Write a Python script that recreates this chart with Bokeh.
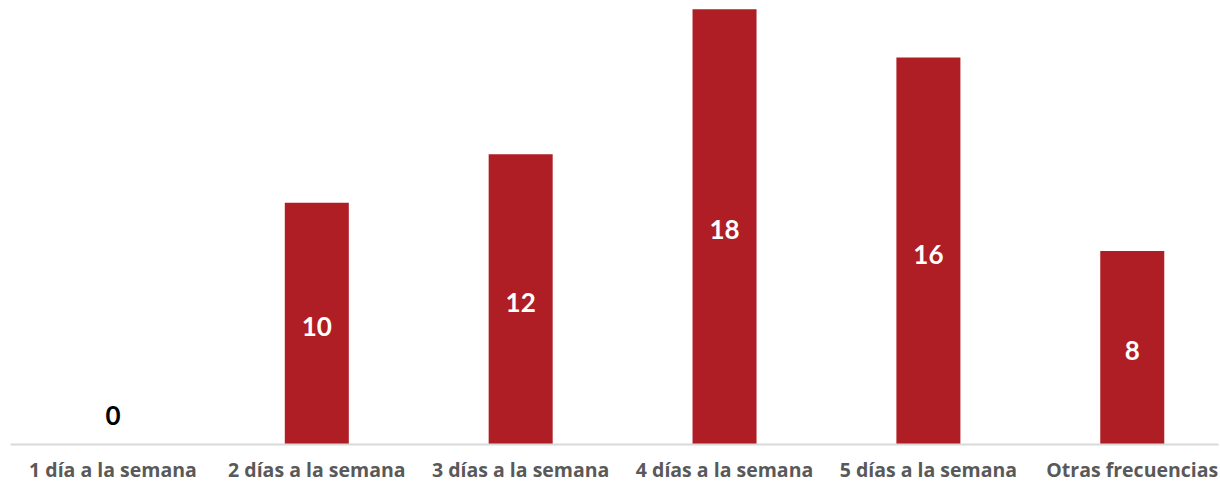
from bokeh.plotting import figure
from bokeh.models import ColumnDataSource, Range1d, FixedTicker
from bokeh.core.properties import value
from bokeh.embed import file_html
from bokeh.resources import INLINE

categories = ["1 día a la semana", "2 días a la semana", "3 días a la semana",
              "4 días a la semana", "5 días a la semana", "Otras frecuencias"]
values = [0, 10, 12, 18, 16, 8]

xpos = [i + 0.5 for i in range(len(categories))]
labels = [str(v) for v in values]
mids = [v / 2 for v in values]
colors = ["#000000" if v == 0 else "#FFFFFF" for v in values]
offsets = [-29 if v == 0 else 3 for v in values]

src = ColumnDataSource(dict(x=xpos, val=values, mid=mids, lab=labels,
                            col=colors, off=offsets))

p = figure(x_range=Range1d(-0.0025, 5.923), y_range=Range1d(0, 18.36),
           width=1220, height=486, output_backend="svg", toolbar_location=None,
           min_border_left=10, min_border_right=2, min_border_top=0,
           min_border_bottom=42)

p.vbar(x="x", top="val", width=0.314, source=src, color="#AE1E24", line_color=None)
p.text(x="x", y="mid", text="lab", source=src, text_color="col",
       y_offset="off",
       text_align="center", text_baseline="middle",
       text_font=value("Lato"), text_font_style="bold", text_font_size="26px")

p.outline_line_color = None
p.grid.grid_line_color = None
p.yaxis.visible = False
p.xaxis.ticker = FixedTicker(ticks=xpos)
p.xaxis.major_label_overrides = {x: c for x, c in zip(xpos, categories)}
p.xaxis.axis_line_color = "#D9D9D9"
p.xaxis.axis_line_width = 2
p.xaxis.major_tick_line_color = None
p.xaxis.major_tick_out = 0
p.xaxis.major_tick_in = 0
p.xaxis.minor_tick_line_color = None
p.xaxis.major_label_text_font = "Open Sans"
p.xaxis.major_label_text_font_style = "bold"
p.xaxis.major_label_text_font_size = "19.5px"
p.xaxis.major_label_text_color = "#595959"
p.xaxis.major_label_standoff = 11
p.background_fill_color = "white"
p.border_fill_color = "white"

open("out.html", "w").write(file_html(p, INLINE))
